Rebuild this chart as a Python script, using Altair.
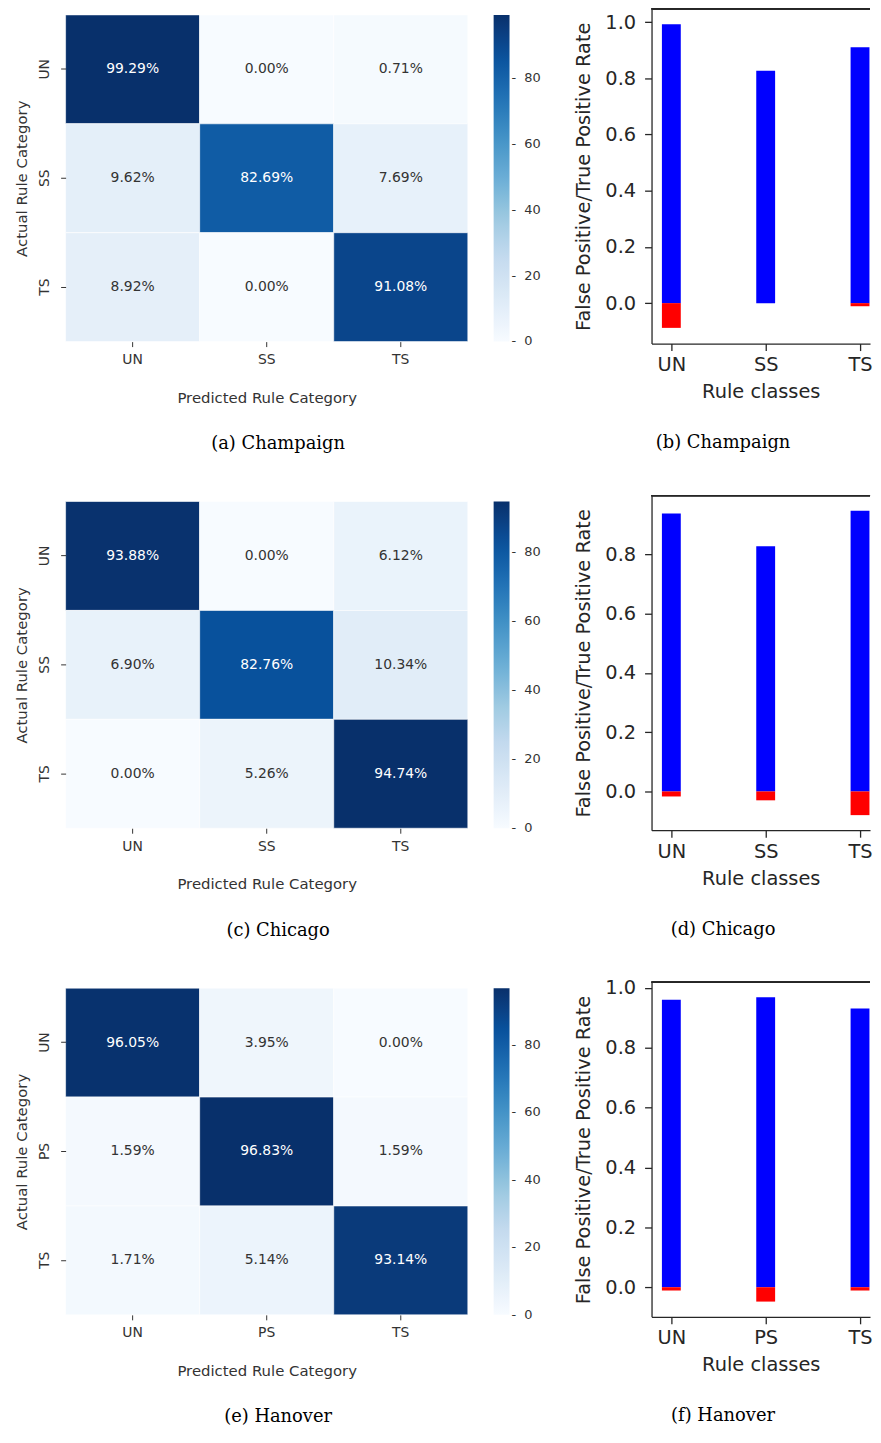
import altair as alt
import pandas as pd

# ---------------- data ----------------
cities = ["Champaign", "Chicago", "Hanover"]
class_labels = [["UN", "SS", "TS"], ["UN", "SS", "TS"], ["UN", "PS", "TS"]]

cm_champaign = [[99.29, 0.00, 0.71], [9.62, 82.69, 7.69], [8.92, 0.00, 91.08]]
cm_chicago = [[93.88, 0.00, 6.12], [6.90, 82.76, 10.34], [0.00, 5.26, 94.74]]
cm_hanover = [[96.05, 3.95, 0.00], [1.59, 96.83, 1.59], [1.71, 5.14, 93.14]]
conf_matrices = [cm_champaign, cm_chicago, cm_hanover]

tpr_champaign = [0.9929, 0.8269, 0.9108]
tpr_chicago = [0.9388, 0.8276, 0.9474]
tpr_hanover = [0.9605, 0.9683, 0.9314]
tprs = [tpr_champaign, tpr_chicago, tpr_hanover]

fpr_champaign = [0.088, 0.0, 0.011]
fpr_chicago = [0.017, 0.030, 0.080]
fpr_hanover = [0.011, 0.048, 0.011]
fprs = [fpr_champaign, fpr_chicago, fpr_hanover]

x_domain = [-0.21, 2.106]
y_domains = [[-0.144, 1.047], [-0.131, 0.999], [-0.099, 1.019]]
colorbar_ticks = [0, 20, 40, 60, 80]
bar_y_ticks = [0.0, 0.2, 0.4, 0.6, 0.8, 1.0]

captions_cm = ["(a) Champaign", "(c) Chicago", "(e) Hanover"]
captions_bar = ["(b) Champaign", "(d) Chicago", "(f) Hanover"]

BLUES = ["#f7fbff", "#deebf7", "#c6dbef", "#9ecae1", "#6baed6",
         "#4292c6", "#2171b5", "#08519c", "#08306b"]

SANS = "DejaVu Sans"
SERIF = "DejaVu Serif"
TXT = "#333333"
DARK = "#262626"
NB = "\u00a0"

HEAT_W, HEAT_H, HEAT_TOP = 405, 329, 6   # heat cells start 6px below the bar frame top
BAR_W, BAR_H = 220, 337


def caption(text, offset):
    return alt.TitleParams(text=text, orient="bottom", anchor="middle", frame="bounds",
                           font=SERIF, fontSize=18, fontWeight="normal", color="black",
                           offset=offset)


def heatmap(cm, labels, cap):
    rows = []
    for i, a in enumerate(labels):
        for j, p in enumerate(labels):
            rows.append({"actual": a, "predicted": p, "value": cm[i][j]})
    df = pd.DataFrame(rows)
    vmax = max(max(r) for r in cm)
    dom = [vmax * k / 8 for k in range(9)]
    dom[0] = -vmax * 0.001

    base = alt.Chart(df).encode(
        x=alt.X("predicted:N", sort=labels,
                scale=alt.Scale(paddingInner=0, paddingOuter=0),
                axis=alt.Axis(orient="bottom", labelAngle=0, tickSize=5, tickColor=TXT,
                              domain=False, labelFont=SANS, labelFontSize=14, labelColor=TXT,
                              labelPadding=6, titleFont=SANS, titleFontSize=15,
                              titleFontWeight="normal", titleColor=TXT, titlePadding=24),
                title="Predicted Rule Category"),
        y=alt.Y("actual:N", sort=labels,
                scale=alt.Scale(paddingInner=0, paddingOuter=0,
                                range=[HEAT_TOP, HEAT_TOP + HEAT_H]),
                axis=alt.Axis(labelAngle=270, tickSize=5, tickColor=TXT, domain=False,
                              labelFont=SANS, labelFontSize=14, labelColor=TXT,
                              labelPadding=9, titleFont=SANS, titleFontSize=15,
                              titleFontWeight="normal", titleColor=TXT, titlePadding=8),
                title="Actual Rule Category"),
    )
    rect = base.mark_rect(stroke="white", strokeWidth=0.6).encode(
        color=alt.Color("value:Q", scale=alt.Scale(domain=dom, range=BLUES),
                        legend=alt.Legend(title=None, orient="none",
                                          legendX=HEAT_W + 26, legendY=HEAT_TOP,
                                          direction="vertical", gradientLength=HEAT_H,
                                          gradientThickness=16, gradientStrokeWidth=0,
                                          values=colorbar_ticks, labelFont=SANS,
                                          labelFontSize=13, labelColor=TXT, labelOffset=2,
                                          labelBaseline="middle",
                                          labelExpr="'-" + NB + NB + "' + datum.label"))
    )
    text = base.mark_text(font=SANS, fontSize=14).transform_calculate(
        lbl="format(datum.value, '.2f') + '%'"
    ).encode(
        text="lbl:N",
        color=alt.condition(alt.datum.value > 50, alt.value("white"), alt.value(TXT)),
    )
    return alt.layer(rect, text).properties(width=HEAT_W, height=HEAT_TOP + HEAT_H,
                                            title=caption(cap, 30))


def barchart(labels, tpr, fpr, ydom, cap):
    rows = []
    for i, (t, f) in enumerate(zip(tpr, fpr)):
        rows.append({"idx": i, "kind": "TPR", "lo": 0.0, "hi": t})
        rows.append({"idx": i, "kind": "FPR", "lo": -f, "hi": 0.0})
    df = pd.DataFrame(rows)
    label_expr = "[" + ",".join("'%s'" % l for l in labels) + "][datum.value]"
    xscale = alt.Scale(domain=x_domain, nice=False, zero=False)
    yscale = alt.Scale(domain=ydom, nice=False, zero=False)
    yvals = [v for v in bar_y_ticks if ydom[0] <= v <= ydom[1]]
    yaxis = alt.Axis(values=yvals, format=".1f", tickSize=7, tickWidth=1.3,
                     tickColor=DARK, domainColor=DARK, domainWidth=1.3,
                     labelFont=SANS, labelFontSize=19.5, labelColor=DARK,
                     labelPadding=9, titleFont=SANS, titleFontSize=19.5,
                     titleFontWeight="normal", titleColor=DARK, titlePadding=11,
                     grid=False)
    ytitle = "False Positive/True Positive Rate"

    base = alt.Chart(df).transform_calculate(x0="datum.idx - 0.1", x1="datum.idx + 0.1")
    bars = base.mark_rect().encode(
        x=alt.X("x0:Q", scale=xscale,
                axis=alt.Axis(values=[0, 1, 2], labelExpr=label_expr, tickSize=7,
                              tickWidth=1.3, tickColor=DARK, domainColor=DARK,
                              domainWidth=1.3, labelFont=SANS, labelFontSize=19.5,
                              labelColor=DARK, labelPadding=5, titleFont=SANS,
                              titleFontSize=19.5, titleFontWeight="normal",
                              titleColor=DARK, titlePadding=9, grid=False),
                title="Rule classes"),
        x2="x1:Q",
        y=alt.Y("lo:Q", scale=yscale, axis=yaxis, title=ytitle),
        y2="hi:Q",
        color=alt.Color("kind:N", scale=alt.Scale(domain=["TPR", "FPR"],
                                                  range=["#0000ff", "#ff0000"]),
                        legend=None),
    )
    # top spine of the frame (the right spine is cut off in the original figure)
    top = alt.Chart(df).mark_rule(color=DARK, strokeWidth=1.3).encode(
        x=alt.datum(x_domain[0]),
        x2=alt.datum(x_domain[1]),
        y=alt.datum(ydom[1]),
    )
    return alt.layer(bars, top).properties(width=BAR_W, height=BAR_H, title=caption(cap, 33))


panels = []
for k in range(3):
    panels.append(heatmap(conf_matrices[k], class_labels[k], captions_cm[k]))
    panels.append(barchart(class_labels[k], tprs[k], fprs[k], y_domains[k], captions_bar[k]))

chart = alt.concat(
    *panels, columns=2, spacing={"row": 153, "column": 185},
    bounds="flush", center=False, align="each",
).resolve_scale(
    color="independent", x="independent", y="independent"
).properties(
    padding={"left": 6, "top": -5, "right": 0, "bottom": 0}
).configure_view(strokeWidth=0).configure_axis(grid=False)

chart.save("out.html", embed_options={"renderer": "svg", "actions": False})
